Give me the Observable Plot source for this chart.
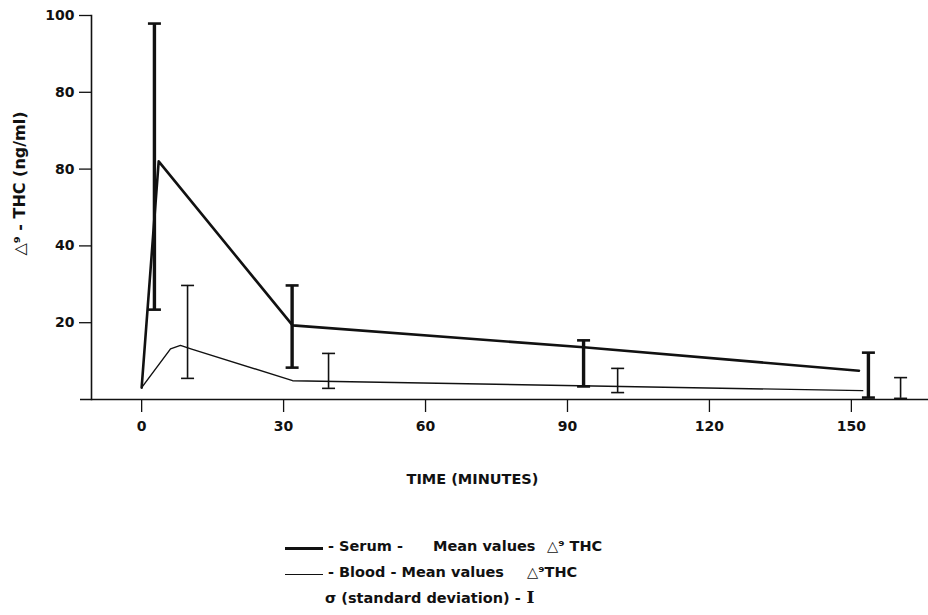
<!DOCTYPE html>
<html>
<head>
<meta charset="utf-8">
<script src="https://cdn.jsdelivr.net/npm/d3@7"></script>
<script src="https://cdn.jsdelivr.net/npm/@observablehq/plot@0.6"></script>
<style>
  body { margin: 0; background: #fff; }
  #wrap { position: relative; width: 928px; height: 615px; overflow: hidden;
          font-family: "DejaVu Sans", sans-serif; font-weight: bold; color: #111; background: #fff; }
  #chart svg { display: block; }
  .leg { position: absolute; font-size: 14.5px; line-height: 1; white-space: nowrap; }
  .sample { position: absolute; width: 38px; height: 0; }
  .ibeam { font-family: "DejaVu Serif", "Liberation Serif", serif; font-size: 17px; }
</style>
</head>
<body>
<div id="wrap">
  <div id="chart"></div>
  <div id="legend"></div>
</div>
<script>
// ---- data ----
const serumTime = [0, 3.6, 31.9, 93.4, 151.6];
const serumMean = [3.1, 62.0, 19.3, 13.6, 7.5];

const bloodTime = [0, 6.1, 8.2, 10.4, 31.9, 152.4];
const bloodMean = [3.1, 13.2, 14.1, 13.2, 4.9, 2.3];

const serumSdTime = [2.7, 31.8, 93.4, 153.6];
const serumSdLow  = [23.4, 8.3, 3.4, 0.5];
const serumSdHigh = [97.9, 29.7, 15.4, 12.2];

const bloodSdTime = [9.7, 39.5, 100.6, 160.4];
const bloodSdLow  = [5.5, 2.9, 1.8, 0.3];
const bloodSdHigh = [29.7, 12.0, 8.1, 5.7];

const xTicks = [0, 30, 60, 90, 120, 150];
const yTicks = [20, 40, 60, 80, 100];
const yTickLabels = ["20", "40", "80", "80", "100"];

const yTitle = "△⁹ - THC (ng/ml)";
const xTitle = "TIME (MINUTES)";

const legendRows = [
  {parts: [["- Serum -", 328], ["Mean values", 433], ["△⁹ THC", 547]]},
  {parts: [["- Blood - Mean values", 328], ["△⁹THC", 527]]},
  {parts: [["σ (standard deviation) -", 325]]}
];

// ---- tables ----
const serum = serumTime.map((t, i) => ({t, v: serumMean[i]}));
const blood = bloodTime.map((t, i) => ({t, v: bloodMean[i]}));
const serumSd = serumSdTime.map((t, i) => ({t, lo: serumSdLow[i], hi: serumSdHigh[i]}));
const bloodSd = bloodSdTime.map((t, i) => ({t, lo: bloodSdLow[i], hi: bloodSdHigh[i]}));

// horizontal cap symbol for error bars
const cap = {draw(ctx, size) { const r = Math.sqrt(size / Math.PI); ctx.moveTo(-r, 0); ctx.lineTo(r, 0); }};
const ink = "#111";

const chart = Plot.plot({
  width: 928,
  height: 500,
  marginTop: 15,
  marginLeft: 91,
  marginRight: 0,
  marginBottom: 101,
  x: {domain: [-10.6, 166.3]},
  y: {domain: [0, 100]},
  style: {fontFamily: "DejaVu Sans, sans-serif", fontWeight: "bold", fontSize: "14px", color: ink, background: "white", overflow: "visible"},
  marks: [
    Plot.axisY({ticks: yTicks, tickSize: 12, tickPadding: 5, tickFormat: d => yTickLabels[yTicks.indexOf(d)], label: null, strokeWidth: 1.3}),
    Plot.axisX({ticks: xTicks, tickSize: 13, tickPadding: 9, label: null, strokeWidth: 1.3}),
    Plot.frame({anchor: "left", stroke: ink, strokeWidth: 1.6}),
    Plot.ruleY([0], {stroke: ink, strokeWidth: 1.6, insetLeft: -11}),
    Plot.line(blood, {x: "t", y: "v", stroke: ink, strokeWidth: 1.4, curve: "linear"}),
    Plot.line(serum, {x: "t", y: "v", stroke: ink, strokeWidth: 2.6, strokeLinejoin: "round"}),
    Plot.ruleX(serumSd, {x: "t", y1: "lo", y2: "hi", stroke: ink, strokeWidth: 3.4}),
    Plot.dot(serumSd, {x: "t", y: "lo", symbol: cap, r: 6.5, stroke: ink, strokeWidth: 2.6, fill: "none"}),
    Plot.dot(serumSd, {x: "t", y: "hi", symbol: cap, r: 6.5, stroke: ink, strokeWidth: 2.6, fill: "none"}),
    Plot.ruleX(bloodSd, {x: "t", y1: "lo", y2: "hi", stroke: ink, strokeWidth: 1.6}),
    Plot.dot(bloodSd, {x: "t", y: "lo", symbol: cap, r: 6.5, stroke: ink, strokeWidth: 1.6, fill: "none"}),
    Plot.dot(bloodSd, {x: "t", y: "hi", symbol: cap, r: 6.5, stroke: ink, strokeWidth: 1.6, fill: "none"}),
    Plot.text([yTitle], {text: d => d, frameAnchor: "left", textAnchor: "middle", dx: -72, dy: -24, rotate: -90, fontSize: 16, fontWeight: "bold", fill: ink}),
    Plot.text([xTitle], {text: d => d, frameAnchor: "bottom", textAnchor: "middle", dx: -37.5, dy: 84, fontSize: 14.5, fontWeight: "bold", fill: ink})
  ]
});
document.getElementById("chart").appendChild(chart);

// ---- legend below the chart ----
const legend = document.getElementById("legend");
const rowTops = [539, 565, 589];
legendRows.forEach((row, i) => {
  row.parts.forEach(([txt, left]) => {
    const s = document.createElement("div");
    s.className = "leg";
    s.style.left = left + "px";
    s.style.top = rowTops[i] + "px";
    s.textContent = txt;
    if (i === 2) {
      const b = document.createElement("span");
      b.className = "ibeam";
      b.textContent = " I";
      s.appendChild(b);
    }
    legend.appendChild(s);
  });
});
const samples = [{top: 547, w: 3}, {top: 574, w: 1.3}];
samples.forEach(sm => {
  const d = document.createElement("div");
  d.className = "sample";
  d.style.left = "285px";
  d.style.top = sm.top + "px";
  d.style.borderTop = sm.w + "px solid " + ink;
  legend.appendChild(d);
});
</script>
</body>
</html>
